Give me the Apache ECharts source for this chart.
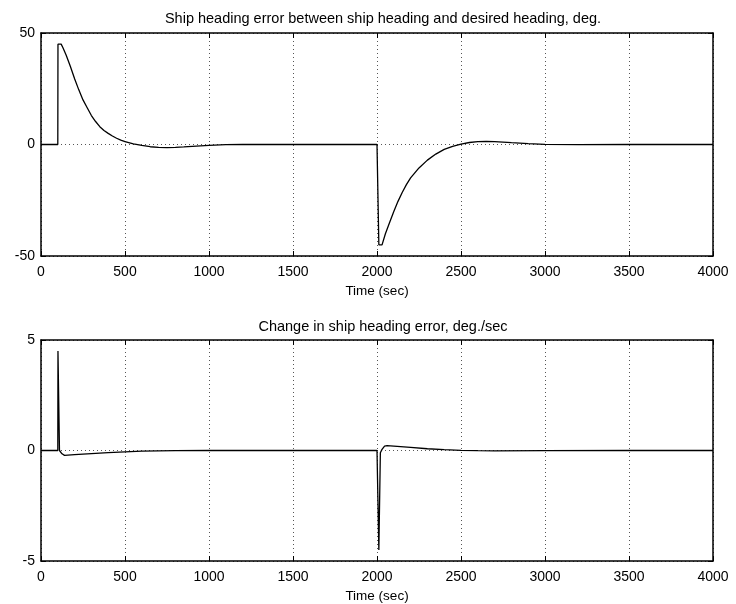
<!DOCTYPE html>
<html>
<head>
<meta charset="utf-8">
<script src="https://cdn.jsdelivr.net/npm/echarts@6/dist/echarts.min.js"></script>
<style>
html,body{margin:0;padding:0;background:#fff;}
#chart{width:736px;height:604px;}
</style>
</head>
<body>
<div id="chart"></div>
<script>
// ---- data ----
var topTitle = 'Ship heading error between ship heading and desired heading, deg.';
var bottomTitle = 'Change in ship heading error, deg./sec';
var xName = 'Time (sec)';

var topT = [0, 100, 101, 120, 130, 150, 175, 200, 225, 250, 275, 300, 325, 350, 375, 400, 425, 450, 475, 500, 550, 600, 650, 700, 750, 800, 850, 900, 1000, 1100, 1200, 1500, 2000, 2010, 2011, 2030, 2050, 2075, 2100, 2125, 2150, 2175, 2200, 2250, 2300, 2350, 2400, 2450, 2500, 2550, 2600, 2650, 2700, 2800, 2900, 3000, 3200, 3500, 4000];
var topV = [0, 0, 45, 45, 43.5, 40, 35, 29.5, 24.5, 20, 16.5, 13, 10.3, 8, 6.3, 5, 3.8, 2.8, 2.0, 1.3, 0.3, -0.4, -1.0, -1.3, -1.4, -1.3, -1.1, -0.8, -0.4, -0.1, 0, 0.05, 0, 0, -45, -45, -40, -35, -30, -25.5, -21.5, -18, -15, -10.5, -7, -4.3, -2.2, -0.8, 0.2, 0.9, 1.3, 1.4, 1.3, 0.8, 0.4, 0.1, -0.05, 0, 0];

var botT = [0, 100, 101, 108, 110, 115, 125, 140, 160, 200, 300, 400, 500, 600, 700, 800, 1000, 2000, 2010, 2011, 2018, 2020, 2030, 2045, 2060, 2080, 2100, 2200, 2300, 2400, 2500, 2600, 2700, 3000, 3500, 4000];
var botV = [0, 0, 4.5, 4.5, 0, -0.05, -0.15, -0.22, -0.21, -0.19, -0.14, -0.1, -0.06, -0.03, -0.015, -0.005, 0, 0, 0, -4.5, -4.5, -0.1, 0.05, 0.2, 0.22, 0.21, 0.2, 0.14, 0.08, 0.04, 0.01, -0.01, -0.015, -0.01, 0, 0];

var xTicks = [0, 500, 1000, 1500, 2000, 2500, 3000, 3500, 4000];
var topYTicks = [-50, 0, 50];
var botYTicks = [-5, 0, 5];

function pairs(t, v){ var r=[]; for (var i=0;i<t.length;i++) r.push([t[i], v[i]]); return r; }

var FONT = 'Liberation Sans';
var gridLine = {show:true, lineStyle:{color:'#555', width:1, type:[1,3]}};
var axLine = {show:true, onZero:false, lineStyle:{color:'#000', width:1.5}};
var tick = {show:true, inside:true, length:5, lineStyle:{color:'#000', width:1}};
function plain(v){ return String(v); }

function xAx(gi, pos, labels, name){
  return {
    type:'value', gridIndex:gi, position:pos, min:xTicks[0], max:xTicks[xTicks.length-1],
    interval:xTicks[1]-xTicks[0],
    axisLine:axLine, axisTick:tick,
    axisLabel:{show:labels, color:'#000', fontFamily:FONT, fontSize:14, margin:9, formatter:plain},
    splitLine: labels ? gridLine : {show:false},
    name: name || '', nameLocation:'middle', nameGap:28,
    nameTextStyle:{color:'#000', fontFamily:FONT, fontSize:13.5}
  };
}
function yAx(gi, pos, labels, ticks){
  return {
    type:'value', gridIndex:gi, position:pos, min:ticks[0], max:ticks[ticks.length-1],
    interval:ticks[1]-ticks[0],
    axisLine:axLine, axisTick:tick,
    axisLabel:{show:labels, color:'#000', fontFamily:FONT, fontSize:14, margin:6, formatter:plain},
    splitLine: labels ? gridLine : {show:false}
  };
}

var chart = echarts.init(document.getElementById('chart'), null, {renderer:'canvas'});
chart.setOption({
  animation:false,
  backgroundColor:'#fff',
  title:[
    {text:topTitle, left:378, top:6, textAlign:'center', textStyle:{fontFamily:FONT, fontSize:14.5, fontWeight:'normal', color:'#000'}},
    {text:bottomTitle, left:378, top:314, textAlign:'center', textStyle:{fontFamily:FONT, fontSize:14.5, fontWeight:'normal', color:'#000'}}
  ],
  grid:[
    {left:41, top:33, width:672, height:223},
    {left:41, top:340, width:672, height:223}
  ],
  xAxis:[xAx(0,'bottom',true,xName), xAx(0,'top',false), xAx(1,'bottom',true,xName), xAx(1,'top',false)],
  yAxis:[yAx(0,'left',true,topYTicks), yAx(0,'right',false,topYTicks), yAx(1,'left',true,botYTicks), yAx(1,'right',false,botYTicks)],
  series:[
    {type:'line', xAxisIndex:0, yAxisIndex:0, data:pairs(topT, topV), showSymbol:false, smooth:false,
     lineStyle:{color:'#000', width:1.3}},
    {type:'line', xAxisIndex:2, yAxisIndex:2, data:pairs(botT, botV), showSymbol:false, smooth:false,
     lineStyle:{color:'#000', width:1.3}}
  ]
});
</script>
</body>
</html>
